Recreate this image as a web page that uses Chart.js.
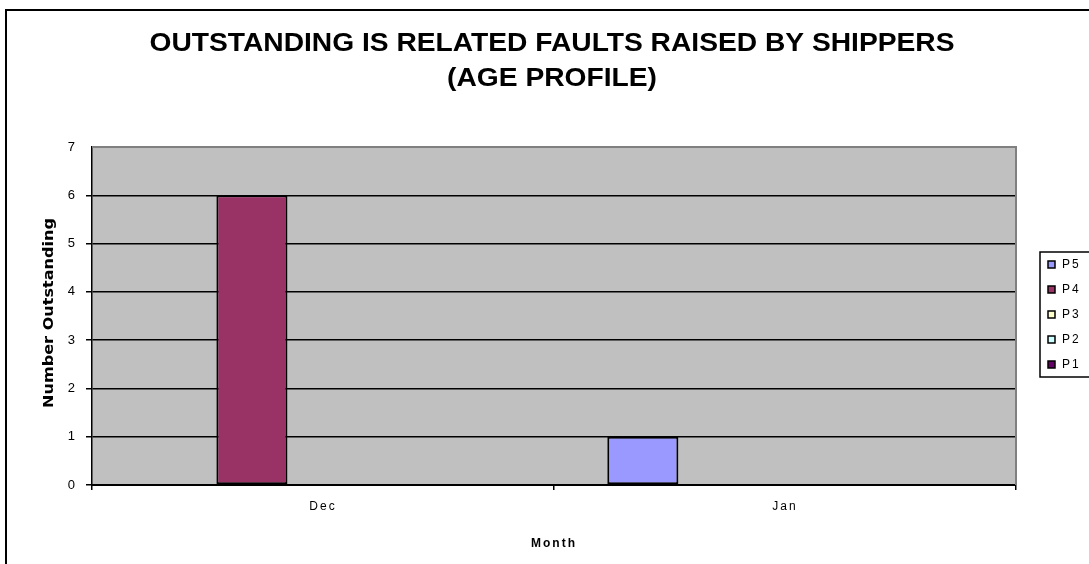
<!DOCTYPE html>
<html>
<head>
<meta charset="utf-8">
<script src="https://cdn.jsdelivr.net/npm/chart.js@4"></script>
<style>
  html, body { margin: 0; padding: 0; background: #fff; }
  #wrap { width: 1089px; height: 564px; position: relative; }
</style>
</head>
<body>
<div id="wrap"><canvas id="faultChart" width="1089" height="564"></canvas></div>
<script>
// chart data
const months = ['Dec', 'Jan'];
const seriesNames = ['P5', 'P4', 'P3', 'P2', 'P1'];
const p5Values = [0, 1];
const p4Values = [6, 0];
const p3Values = [0, 0];
const p2Values = [0, 0];
const p1Values = [0, 0];
const yTicks = [0, 1, 2, 3, 4, 5, 6, 7];

const seriesColors = ['#9999FF', '#993366', '#FFFFCC', '#CCFFFF', '#660066'];
const seriesValues = [p5Values, p4Values, p3Values, p2Values, p1Values];

const titleLines = ['OUTSTANDING IS RELATED FAULTS RAISED BY SHIPPERS', '(AGE PROFILE)'];
const yTitle = 'Number Outstanding';

const baseFont = "'Liberation Sans', Arial, sans-serif";

// background, borders, titles and legend drawn around the chart
const decorPlugin = {
    id: 'decor',
    beforeDraw(chart) {
        const ctx = chart.ctx;
        const a = chart.chartArea;
        ctx.save();
        ctx.fillStyle = '#C0C0C0';
        ctx.fillRect(a.left, a.top, a.right - a.left, a.bottom - a.top);
        ctx.restore();
        ctx.letterSpacing = '2px';
    },
    afterDraw(chart) {
        const ctx = chart.ctx;
        const a = chart.chartArea;
        ctx.save();
        ctx.letterSpacing = '0px';

        // plot top / right border
        ctx.strokeStyle = '#808080';
        ctx.lineWidth = 2;
        ctx.beginPath();
        ctx.moveTo(a.left, a.top);
        ctx.lineTo(a.right, a.top);
        ctx.lineTo(a.right, a.bottom);
        ctx.stroke();

        // outer frame
        ctx.strokeStyle = '#000';
        ctx.lineWidth = 2;
        ctx.strokeRect(6, 10, 1200, 1200);

        // main title, stretched to the reference width
        ctx.fillStyle = '#000';
        ctx.font = 'bold 25px ' + baseFont;
        ctx.textAlign = 'center';
        ctx.textBaseline = 'alphabetic';
        const w1 = ctx.measureText(titleLines[0]).width;
        const sx = 805 / w1;
        const baselines = [51, 86];
        titleLines.forEach((line, i) => {
            ctx.save();
            ctx.translate(552, baselines[i]);
            ctx.scale(sx, 1);
            ctx.fillText(line, 0, 0);
            ctx.restore();
        });

        // y axis title
        ctx.font = "bold 14px 'DejaVu Sans', sans-serif";
        const wy = ctx.measureText(yTitle).width;
        ctx.save();
        ctx.translate(49, (a.top + a.bottom) / 2 - 3);
        ctx.rotate(-Math.PI / 2);
        ctx.scale(190 / wy, 1);
        ctx.textBaseline = 'middle';
        ctx.fillText(yTitle, 0, 0);
        ctx.restore();

        // legend
        ctx.lineWidth = 1.5;
        ctx.strokeRect(1040, 252, 80, 125);
        ctx.font = '12px ' + baseFont;
        ctx.letterSpacing = '2px';
        ctx.textAlign = 'left';
        ctx.textBaseline = 'middle';
        chart.data.datasets.forEach((ds, i) => {
            const y = 265 + i * 25;
            ctx.fillStyle = ds.backgroundColor;
            ctx.fillRect(1048, y - 4, 7, 7);
            ctx.lineWidth = 1.5;
            ctx.strokeStyle = '#000';
            ctx.strokeRect(1048, y - 4, 7, 7);
            ctx.fillStyle = '#000';
            ctx.fillText(ds.label, 1062, y);
        });
        ctx.restore();
    }
};

const datasets = seriesNames.map((name, i) => ({
    label: name,
    data: seriesValues[i],
    backgroundColor: seriesColors[i],
    borderColor: '#000',
    borderWidth: 2,
    borderSkipped: false,
    categoryPercentage: 5 / 6.5,
    barPercentage: 1
}));

const ctx = document.getElementById('faultChart').getContext('2d');
new Chart(ctx, {
    type: 'bar',
    data: { labels: months, datasets: datasets },
    plugins: [decorPlugin],
    options: {
        responsive: false,
        animation: false,
        events: [],
        layout: { padding: { top: 147, right: 73, bottom: 0, left: 0 } },
        font: { family: baseFont },
        plugins: {
            legend: { display: false },
            title: { display: false },
            tooltip: { enabled: false }
        },
        scales: {
            x: {
                afterFit(scale) { scale.height = 79; },
                grid: { offset: true, drawOnChartArea: false, drawTicks: true, tickLength: 5, color: '#000', lineWidth: 1.5 },
                border: { color: '#000', width: 2 },
                ticks: { color: '#000', font: { size: 12, family: baseFont }, padding: 9 },
                title: {
                    display: true,
                    text: 'Month',
                    color: '#000',
                    font: { size: 12, weight: 'bold', family: baseFont },
                    padding: { top: 0, bottom: 13 }
                }
            },
            y: {
                min: 0,
                max: 7,
                afterFit(scale) { scale.width = 92; },
                afterBuildTicks(scale) { scale.ticks = yTicks.map(v => ({ value: v })); },
                grid: {
                    color: c => (c.tick && c.tick.value === 7 ? 'rgba(0,0,0,0)' : '#000'),
                    lineWidth: 1.5,
                    tickLength: 6,
                    drawTicks: true
                },
                border: { color: '#000', width: 1.5 },
                ticks: { color: '#000', font: { size: 13, family: baseFont }, padding: 9 }
            }
        }
    }
});
</script>
</body>
</html>
